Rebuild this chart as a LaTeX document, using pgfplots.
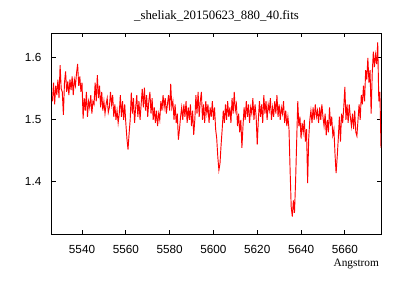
\documentclass[border=0pt]{standalone}
\usepackage{pgfplots}
\pgfplotsset{compat=1.18}
\usepackage{fontspec}
\setmainfont{Liberation Serif}
\newfontfamily\ticksfont{Liberation Sans}

\pgfplotstableread{
lam flux
5526.5 1.530
5527.0 1.560
5527.5 1.525
5528.0 1.555
5528.5 1.540
5529.0 1.565
5529.5 1.535
5530.0 1.588
5530.5 1.550
5531.0 1.545
5531.5 1.508
5532.0 1.560
5532.5 1.578
5533.0 1.545
5533.5 1.562
5534.0 1.540
5534.5 1.565
5535.0 1.548
5535.5 1.570
5536.0 1.540
5536.5 1.565
5537.0 1.555
5537.5 1.575
5538.0 1.590
5538.5 1.555
5539.0 1.570
5539.5 1.545
5540.0 1.560
5540.5 1.502
5541.0 1.535
5541.5 1.515
5542.0 1.545
5542.5 1.505
5543.0 1.530
5543.5 1.520
5544.0 1.540
5544.5 1.510
5545.0 1.530
5545.5 1.525
5546.0 1.560
5546.5 1.530
5547.0 1.572
5547.5 1.535
5548.0 1.555
5548.5 1.520
5549.0 1.545
5549.5 1.515
5550.0 1.530
5550.5 1.510
5551.0 1.525
5551.5 1.535
5552.0 1.512
5552.5 1.520
5553.0 1.545
5553.5 1.525
5554.0 1.540
5554.5 1.505
5555.0 1.525
5555.5 1.500
5556.0 1.515
5556.5 1.495
5557.0 1.510
5557.5 1.540
5558.0 1.505
5558.5 1.530
5559.0 1.500
5559.5 1.525
5560.0 1.495
5560.5 1.470
5561.0 1.452
5561.5 1.478
5562.0 1.500
5562.5 1.544
5563.0 1.510
5563.5 1.535
5564.0 1.495
5564.5 1.520
5565.0 1.540
5565.5 1.505
5566.0 1.530
5566.5 1.500
5567.0 1.525
5567.5 1.550
5568.0 1.520
5568.5 1.552
5569.0 1.515
5569.5 1.540
5570.0 1.505
5570.5 1.530
5571.0 1.545
5571.5 1.510
5572.0 1.535
5572.5 1.500
5573.0 1.520
5573.5 1.495
5574.0 1.515
5574.5 1.490
5575.0 1.510
5575.5 1.500
5576.0 1.530
5576.5 1.515
5577.0 1.540
5577.5 1.520
5578.0 1.535
5578.5 1.510
5579.0 1.525
5579.5 1.540
5580.0 1.515
5580.5 1.558
5581.0 1.520
5581.5 1.530
5582.0 1.500
5582.5 1.525
5583.0 1.495
5583.5 1.510
5584.0 1.468
5584.5 1.485
5585.0 1.505
5585.5 1.520
5586.0 1.500
5586.5 1.525
5587.0 1.505
5587.5 1.530
5588.0 1.495
5588.5 1.520
5589.0 1.500
5589.5 1.525
5590.0 1.490
5590.5 1.515
5591.0 1.476
5591.5 1.500
5592.0 1.540
5592.5 1.510
5593.0 1.545
5593.5 1.505
5594.0 1.530
5594.5 1.545
5595.0 1.500
5595.5 1.525
5596.0 1.495
5596.5 1.530
5597.0 1.510
5597.5 1.525
5598.0 1.495
5598.5 1.520
5599.0 1.505
5599.5 1.530
5600.0 1.500
5600.5 1.520
5601.0 1.485
5601.5 1.470
5602.0 1.440
5602.5 1.419
5603.0 1.430
5603.5 1.460
5604.0 1.485
5604.5 1.515
5605.0 1.495
5605.5 1.525
5606.0 1.500
5606.5 1.530
5607.0 1.505
5607.5 1.520
5608.0 1.495
5608.5 1.535
5609.0 1.510
5609.5 1.545
5610.0 1.515
5610.5 1.525
5611.0 1.490
5611.5 1.510
5612.0 1.480
5612.5 1.500
5613.0 1.455
5613.5 1.490
5614.0 1.520
5614.5 1.500
5615.0 1.530
5615.5 1.505
5616.0 1.525
5616.5 1.495
5617.0 1.520
5617.5 1.510
5618.0 1.535
5618.5 1.500
5619.0 1.525
5619.5 1.505
5620.0 1.460
5620.5 1.500
5621.0 1.530
5621.5 1.505
5622.0 1.525
5622.5 1.495
5623.0 1.540
5623.5 1.510
5624.0 1.530
5624.5 1.500
5625.0 1.525
5625.5 1.515
5626.0 1.535
5626.5 1.500
5627.0 1.520
5627.5 1.505
5628.0 1.530
5628.5 1.510
5629.0 1.540
5629.5 1.505
5630.0 1.525
5630.5 1.500
5631.0 1.520
5631.5 1.510
5632.0 1.530
5632.5 1.495
5633.0 1.515
5633.5 1.490
5634.0 1.505
5634.5 1.485
5635.0 1.419
5635.5 1.360
5636.0 1.344
5636.5 1.370
5637.0 1.350
5637.5 1.400
5638.0 1.465
5638.5 1.530
5639.0 1.490
5639.5 1.505
5640.0 1.470
5640.5 1.495
5641.0 1.480
5641.5 1.500
5642.0 1.465
5642.5 1.485
5643.0 1.398
5643.5 1.470
5644.0 1.500
5644.5 1.515
5645.0 1.495
5645.5 1.520
5646.0 1.500
5646.5 1.525
5647.0 1.505
5647.5 1.515
5648.0 1.495
5648.5 1.520
5649.0 1.500
5649.5 1.525
5650.0 1.505
5650.5 1.490
5651.0 1.510
5651.5 1.475
5652.0 1.500
5652.5 1.480
5653.0 1.520
5653.5 1.490
5654.0 1.505
5654.5 1.475
5655.0 1.485
5655.5 1.445
5656.0 1.414
5656.5 1.440
5657.0 1.470
5657.5 1.505
5658.0 1.465
5658.5 1.510
5659.0 1.495
5659.5 1.520
5660.0 1.553
5660.5 1.500
5661.0 1.525
5661.5 1.495
5662.0 1.525
5662.5 1.505
5663.0 1.490
5663.5 1.510
5664.0 1.485
5664.5 1.515
5665.0 1.480
5665.5 1.474
5666.0 1.500
5666.5 1.525
5667.0 1.500
5667.5 1.540
5668.0 1.525
5668.5 1.555
5669.0 1.530
5669.5 1.580
5670.0 1.565
5670.5 1.600
5671.0 1.560
5671.5 1.580
5672.0 1.510
5672.5 1.575
5673.0 1.610
5673.5 1.585
5674.0 1.605
5674.5 1.590
5675.0 1.625
5675.5 1.530
5676.0 1.545
5676.5 1.455
}\spectrum

\begin{document}
\begin{tikzpicture}
\useasboundingbox (-39pt,-34.5pt) rectangle (261pt,175.5pt);
\begin{axis}[
  at={(0,0)}, anchor=south west,
  scale only axis,
  width=246.75pt, height=150.75pt,
  xmin=5526.3, xmax=5676.5,
  ymin=1.316, ymax=1.640,
  xtick={5540,5560,...,5660},
  ytick={1.4,1.5,1.6},
  minor tick num=0,
  tick align=inside,
  major tick length=3pt,
  axis line style={line width=0.75pt},
  every tick/.style={black, line width=0.6pt},
  ticklabel style={font=\ticksfont\fontsize{8.8}{10}\selectfont},
  /pgf/number format/assume math mode=true,
  /pgf/number format/.cd, 1000 sep={}, fixed, /tikz/.cd,
  yticklabel style={/pgf/number format/precision=1, /pgf/number format/fixed zerofill=false, xshift=-4.5pt},
  xticklabel style={yshift=-5pt},
  title={\_sheliak\_20150623\_880\_40.fits},
  title style={font=\fontsize{9.6}{10}\selectfont, at={(0.5,1)}, anchor=south, yshift=-0.5pt},
  xlabel={Angstrom},
  xlabel style={font=\fontsize{8.5}{9}\selectfont, at={(1,0)}, anchor=north east, yshift=-15pt, xshift=2pt},
  clip=true,
]
\addplot[red, line width=0.7pt, mark=none] table[x=lam, y=flux] {\spectrum};
\end{axis}
\end{tikzpicture}
\end{document}
